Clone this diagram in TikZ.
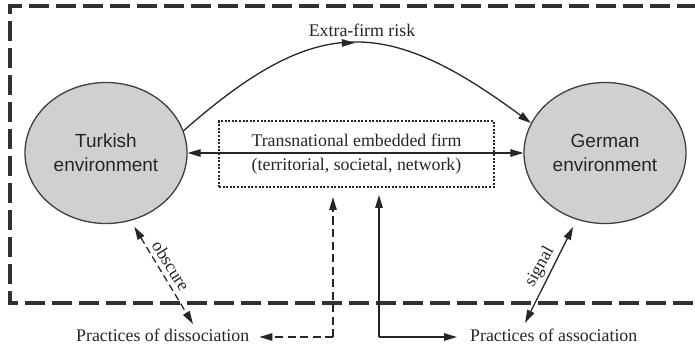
\documentclass[tikz,border=0pt]{standalone}
\usepackage{fontspec}
\setmainfont{Liberation Serif}
\newfontfamily\sansf{Liberation Sans}
\usetikzlibrary{shapes.geometric,arrows.meta,decorations.markings}
\definecolor{ink}{HTML}{262626}
\definecolor{envfill}{HTML}{D0D0D0}
\definecolor{envline}{HTML}{404040}
\begin{document}
\begin{tikzpicture}[x=1pt,y=-1pt,
  font=\fontsize{17.8}{24}\selectfont,
  tip/.tip={Triangle[length=13pt,width=7.5pt]},
  env/.style={ellipse,draw=envline,line width=1.3pt,fill=envfill,
    minimum width=162pt,minimum height=141pt,inner sep=0pt,align=center,
    text=ink,font=\sansf\fontsize{19}{24}\selectfont},
  firmbox/.style={draw=ink,line width=2pt,dash pattern=on 2pt off 1.6pt,
    minimum width=275pt,minimum height=66pt,inner sep=0pt,align=center,text=ink},
  conn/.style={draw=ink,line width=1.3pt},
  dconn/.style={conn,dash pattern=on 8pt off 4.5pt},
  border/.style={draw=ink!95,line width=3.6pt,dash pattern=on 20pt off 7pt},
  lbl/.style={text=ink,inner sep=2pt}
]
\clip (0,0) rectangle (695,347);
\fill[white] (0,0) rectangle (695,347);

% outer dashed frame (open to the right)
\draw[border] (720,303) -- (10,303) -- (10,6) -- (720,6);

\node[env] (T) at (106,153) {Turkish\\environment};
\node[env] (G) at (605,153) {German\\environment};
\node[firmbox] (F) at (356.5,154) {Transnational embedded firm\\[0pt](territorial, societal, network)};

% horizontal double arrow
\draw[conn,tip-tip] (T.east) -- (G.west);

% curved extra-firm risk arrow
\draw[conn,-tip,decoration={markings,mark=at position 0.5 with {\arrow{tip}}},postaction={decorate}]
  (T.16) .. controls (315,15) and (385,15) .. (G.158);
\node[lbl] (risk) at (362,30) {Extra-firm risk};

% bottom labels
\node[lbl,anchor=base west,inner sep=0pt] (dis) at (76,341) {Practices of dissociation};
\node[lbl,anchor=base west,inner sep=0pt] (ass) at (470,341) {Practices of association};

% dissociation connector (dashed)
\coordinate (dc) at (333,337);
\draw[dconn,-tip,shorten >=9pt] (dc) -- (dc |- F.south);
\draw[dconn,-tip,shorten >=10pt] (dc) -- (dis.east |- dc);

% association connector (solid)
\coordinate (ac) at (379,337);
\draw[conn,-tip,shorten >=7pt] (ac) -- (ac |- F.south);
\draw[conn,-tip] (ac) -- (457,337);

% obscure
\coordinate (ob) at (193,324);
\draw[dconn,dash pattern=on 7pt off 4pt,tip-tip,shorten <=7pt] (T.-70) -- (ob);
\node[lbl,rotate=-58,inner sep=0pt] (obl) at (171,266) {obscure};

% signal
\coordinate (sg) at (525,323);
\draw[conn,tip-tip,shorten >=8pt] (sg) -- (G.247);
\node[lbl,rotate=61,inner sep=0pt] (sgl) at (540,267) {signal};
\end{tikzpicture}
\end{document}
